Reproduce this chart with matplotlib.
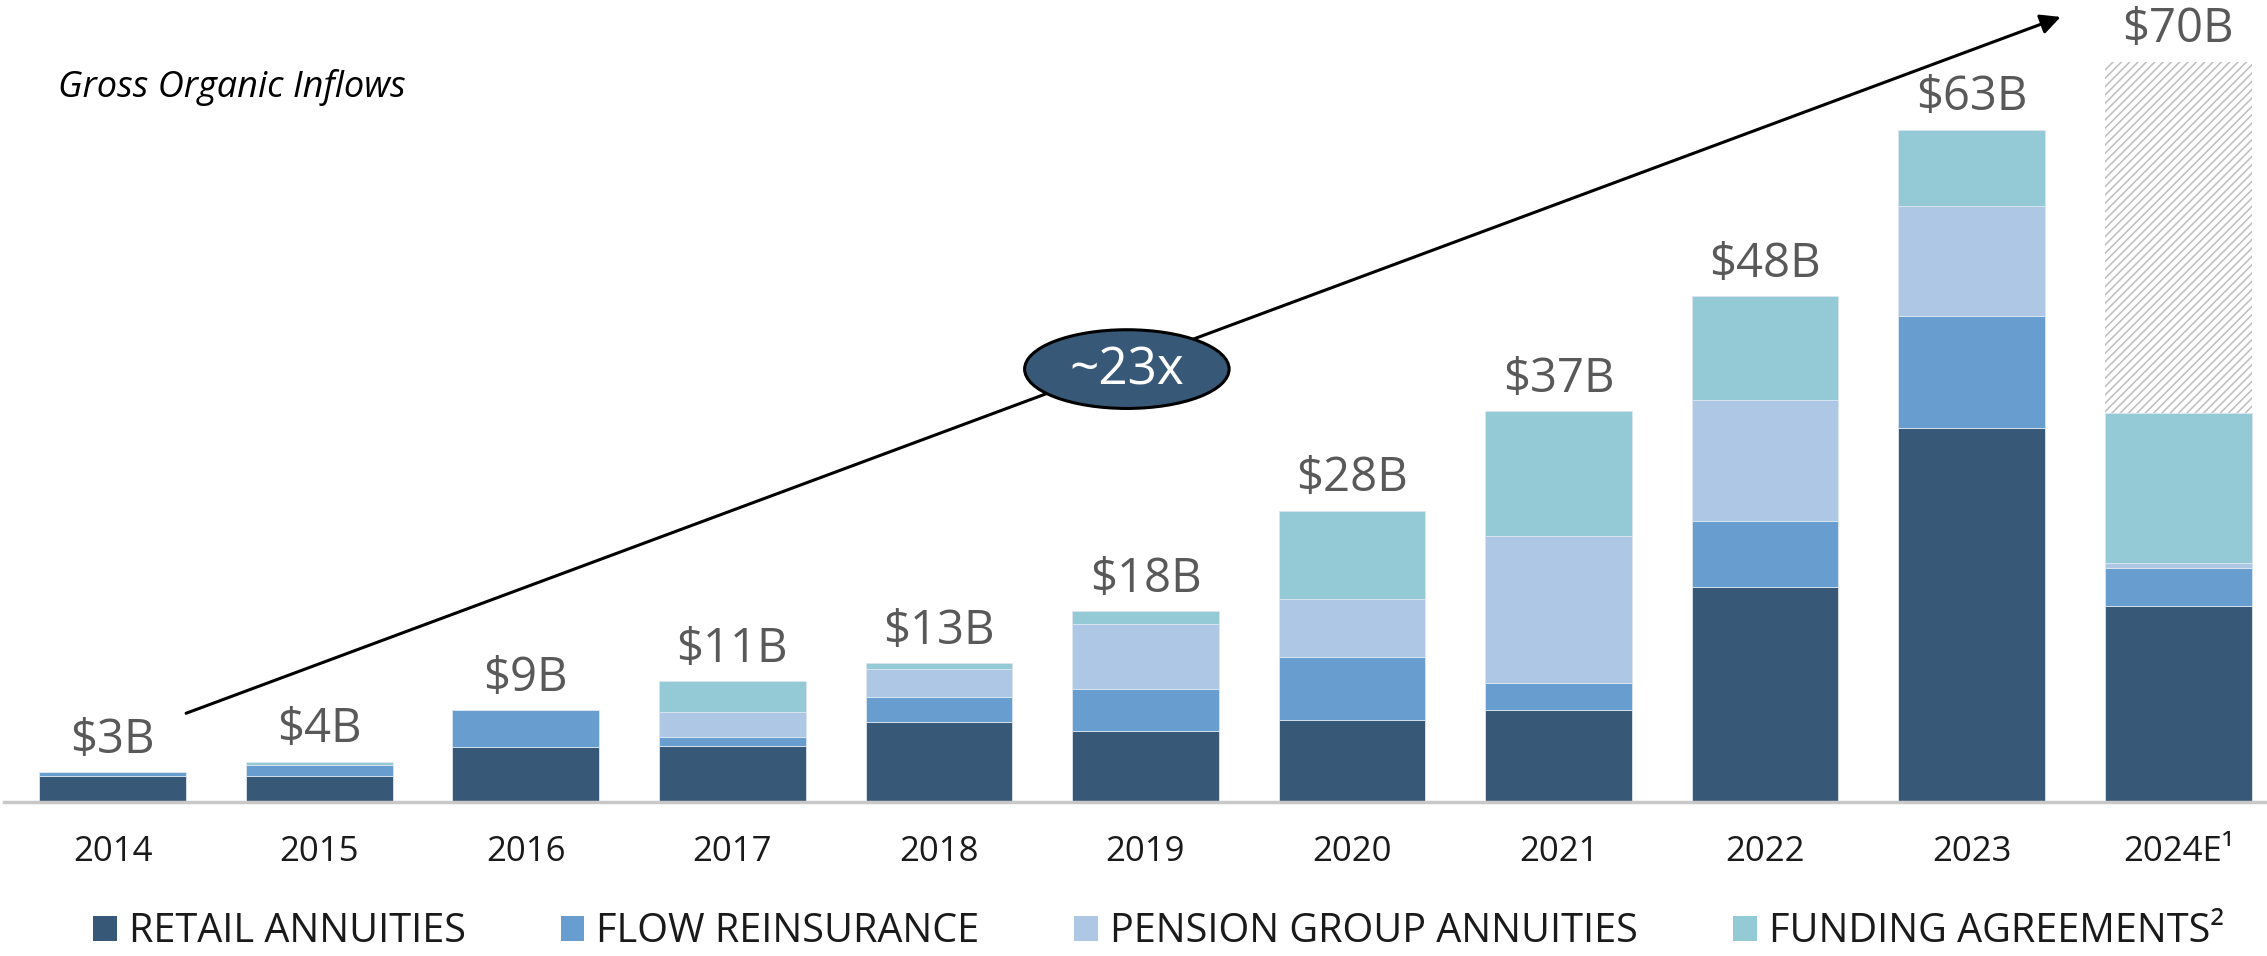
import matplotlib
matplotlib.use("Agg")
import matplotlib.pyplot as plt
from matplotlib.patches import Ellipse, Patch
import numpy as np

years = ["2014", "2015", "2016", "2017", "2018", "2019", "2020", "2021", "2022", "2023", "2024E\u00b9"]
retail = [2.45, 2.4, 5.2, 5.3, 7.5, 6.7, 7.7, 8.65, 20.2, 35.2, 18.4]
flow = [0.38, 1.1, 3.45, 0.85, 2.35, 3.95, 5.9, 2.5, 6.25, 10.5, 3.6]
pension = [0.0, 0.0, 0.0, 2.3, 2.65, 6.1, 5.5, 13.9, 11.3, 10.3, 0.5]
funding = [0.0, 0.28, 0.0, 2.9, 0.56, 1.2, 8.3, 11.7, 9.8, 7.2, 14.1]
estimate_remaining = [0, 0, 0, 0, 0, 0, 0, 0, 0, 0, 33.0]
totals_labels = ["$3B", "$4B", "$9B", "$11B", "$13B", "$18B", "$28B", "$37B", "$48B", "$63B", "$70B"]
series_names = ["RETAIL ANNUITIES", "FLOW REINSURANCE", "PENSION GROUP ANNUITIES", "FUNDING AGREEMENTS\u00b2"]
colors = ["#385878", "#689ECF", "#ADC7E5", "#93CAD6"]

plt.rcParams['font.family'] = ['Open Sans', 'DejaVu Sans']
plt.rcParams['hatch.linewidth'] = 1.1
plt.rcParams['hatch.color'] = '#BDBDBD'

fig = plt.figure(figsize=(22.67, 9.56), dpi=100)
ax = fig.add_axes([4/2267, (956-802)/956, 2261/2267, 802/956])

x = np.arange(len(years))
w = 0.71
bottom = np.zeros(len(years))
for vals, c in zip([retail, flow, pension, funding], colors):
    v = np.array(vals)
    ax.bar(x, v, w, bottom=bottom, color=c, edgecolor='#DCE6F0', linewidth=0.6)
    bottom = bottom + v
ax.bar(x, estimate_remaining, w, bottom=bottom, color='white', hatch='////',
       edgecolor='#BDBDBD', linewidth=0)
tops = bottom + np.array(estimate_remaining)

for xi, t, lab in zip(x, tops, totals_labels):
    ax.annotate(lab, (xi, t), xytext=(0, 6), textcoords='offset points',
                ha='center', va='bottom', fontsize=34, color='#595959')

ax.set_xlim(-0.526, 10.42)
ax.set_ylim(0, 75.4)
ax.set_xticks(x)
ax.set_xticklabels(years, fontsize=25, color='#1a1a1a')
ax.tick_params(axis='x', length=0, pad=24)
ax.set_yticks([])
for s in ['top', 'left', 'right']:
    ax.spines[s].set_visible(False)
ax.spines['bottom'].set_color('#C8C8C8')
ax.spines['bottom'].set_linewidth(2.5)

# growth arrow
ax.annotate('', xy=(9.443, 73.9), xytext=(0.343, 8.25),
            arrowprops=dict(arrowstyle='-|>', color='black', lw=2.2, mutation_scale=30))
ell = Ellipse((4.91, 40.7), 0.99, 7.4, facecolor='#385878', edgecolor='black', lw=2.2, zorder=5)
ax.add_patch(ell)
ax.text(4.91, 40.5, '~23x', ha='center', va='center', fontsize=37, color='white', zorder=6)

fig.text(58/2267, 1 - 87/956, 'Gross Organic Inflows', fontsize=26, style='italic',
         ha='left', va='center', color='black')

handles = [Patch(facecolor=c) for c in colors]
fig.legend(handles, series_names, loc='center', bbox_to_anchor=(0.511, 1 - 932/956),
           ncol=4, frameon=False, fontsize=28.5, handlelength=0.6, handleheight=0.6,
           handletextpad=0.3, columnspacing=2.4, labelcolor='#1a1a1a',
           borderpad=0.1)

fig.savefig('out.png', dpi=100)
